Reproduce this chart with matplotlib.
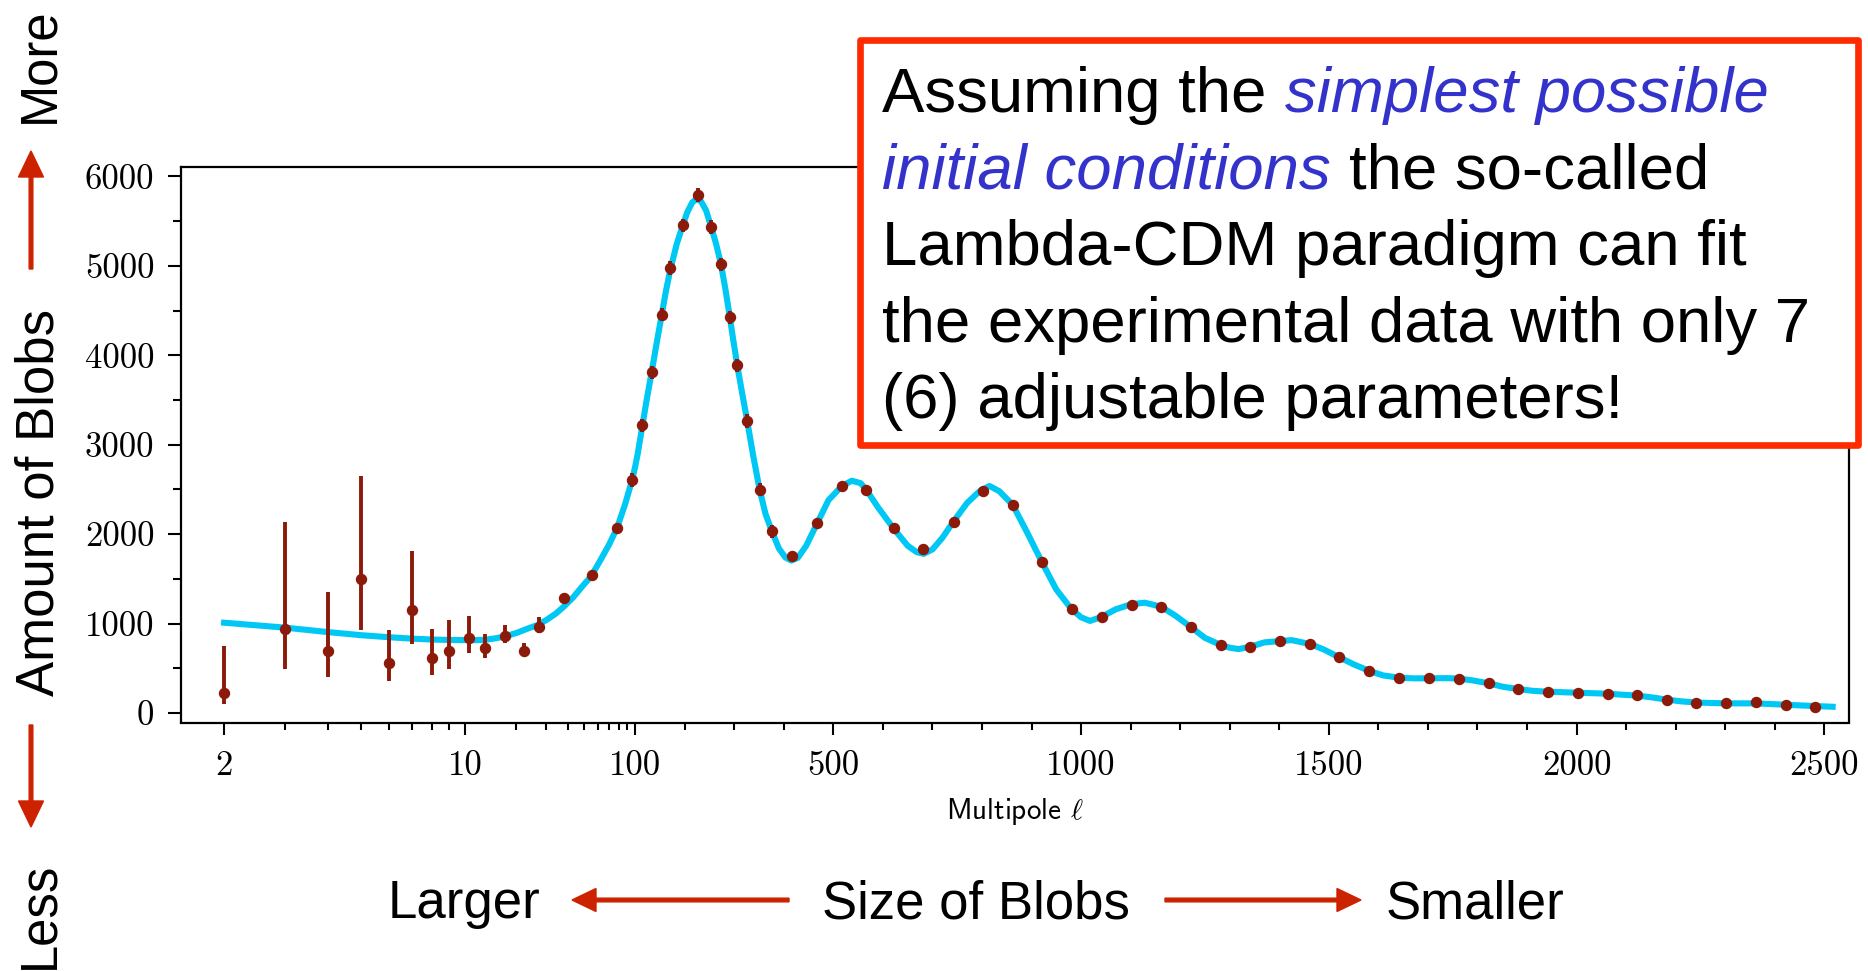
import numpy as np
import matplotlib
matplotlib.use('Agg')
import matplotlib.pyplot as plt
from matplotlib.patches import FancyArrow, Rectangle

plt.rcParams['font.family'] = ['Liberation Sans', 'DejaVu Sans']
plt.rcParams['mathtext.fontset'] = 'cm'

# theory curve
curve_l = [2, 2.5, 3, 4, 5, 6, 7, 8, 9, 10,
           11.5, 13, 15, 17, 20, 23, 26.6, 30, 34, 38,
           43, 48, 55, 62, 70, 78, 87, 96, 100, 105,
           113, 123, 133, 143, 153, 162, 171, 184, 196, 205,
           215, 224, 233, 243, 253, 263, 273, 282, 291, 298,
           306, 316, 326, 338, 351, 363, 376, 390, 403, 415,
           428, 445, 467, 490, 517, 537, 555, 566, 590, 621,
           650, 668, 682, 700, 720, 742, 770, 795, 815, 835,
           862, 890, 921, 950, 981, 1000, 1018, 1042, 1070, 1100,
           1128, 1161, 1190, 1222, 1250, 1282, 1300, 1318, 1342, 1370,
           1402, 1425, 1462, 1490, 1521, 1550, 1582, 1610, 1642, 1670,
           1702, 1740, 1762, 1790, 1823, 1850, 1882, 1912, 1942, 1972,
           2002, 2032, 2063, 2092, 2122, 2152, 2182, 2212, 2242, 2272,
           2302, 2332, 2362, 2392, 2423, 2452, 2482, 2517]
curve_d = [1010, 980, 955, 905, 870, 848, 832, 822, 817, 815,
           815, 818, 835, 855, 895, 940, 984, 1040, 1110, 1190,
           1290, 1400, 1530, 1700, 1880, 2066, 2330, 2610, 2760, 2900,
           3170, 3500, 3809, 4130, 4440, 4720, 4965, 5250, 5454, 5600,
           5710, 5750, 5720, 5620, 5440, 5250, 5020, 4740, 4424, 4165,
           3885, 3570, 3265, 2880, 2500, 2225, 2030, 1840, 1740, 1705,
           1735, 1870, 2120, 2380, 2538, 2598, 2570, 2500, 2300, 2067,
           1870, 1800, 1780, 1830, 1960, 2139, 2350, 2480, 2539, 2480,
           2327, 2030, 1686, 1380, 1160, 1070, 1030, 1077, 1160, 1215,
           1234, 1190, 1090, 959, 840, 761, 730, 715, 742, 790,
           805, 815, 772, 710, 623, 545, 470, 420, 395, 388,
           388, 390, 385, 365, 332, 295, 268, 248, 238, 232,
           227, 222, 216, 205, 195, 175, 150, 130, 118, 112,
           108, 108, 108, 100, 92, 85, 78, 70]

# measured points
pts_l = [2, 3, 4, 5, 6, 7, 8, 9, 10.45, 13.0, 17.2, 22.2, 27.0, 38.2, 55.4,
         78, 96.3, 112.7, 132.9, 153.1, 170.6, 196.2, 225.7, 253.3, 273.5,
         291, 305.8, 326, 350.9, 375.8, 416.2, 466.6, 517, 566, 621.3,
         681.8, 742.4, 801.7, 861.8, 921, 981, 1041.6, 1102, 1161, 1222,
         1282, 1341.6, 1402, 1462, 1521, 1582, 1642.5, 1702, 1762.5, 1823,
         1882, 1942, 2002.5, 2063, 2122, 2182, 2242, 2302.5, 2362.5, 2423, 2482]
pts_d = [220, 936, 694, 1499, 556, 1152, 612, 697, 840, 723, 858, 697, 962, 1283, 1538,
         2068, 2606, 3217, 3809, 4456, 4975, 5454, 5794, 5435, 5016,
         4424, 3888, 3265, 2499, 2031, 1760, 2126, 2538, 2499, 2067,
         1839, 2139, 2479, 2327, 1686, 1160, 1077, 1208, 1182, 959,
         761, 742, 805, 772, 623, 470, 395, 392, 380, 332,
         268, 238, 227, 216, 198, 145, 115, 108, 120, 89, 70]
err_lo = [119, 447, 295, 571, 198, 380, 191, 208, 172, 104, 78, 48, 71, 43, 30,
          40] + [75] * 14 + [45] * 8 + [25] * 28
err_hi = [529, 1204, 656, 1152, 372, 660, 324, 343, 249, 161, 126, 89, 108, 47, 30,
          40] + [75] * 14 + [45] * 8 + [25] * 28

xticks = [2, 10, 100, 500, 1000, 1500, 2000, 2500]
xtick_labels = ['2', '10', '100', '500', '1000', '1500', '2000', '2500']
xminor = [3, 4, 5, 6, 7, 8, 9, 20, 30, 40, 50, 60, 70, 80, 90] + \
         [v for v in range(200, 2500, 100) if v % 500 != 0]
yticks = [0, 1000, 2000, 3000, 4000, 5000, 6000]
yminor = [500, 1500, 2500, 3500, 4500, 5500]

CYAN = '#00C8F5'
DOT = '#8B1A0A'
ARROW = '#CC2200'
BOX = '#FF2A00'
BLUE = '#3333CC'

# piecewise axis: log 2..10, log (compressed) 10..100, linear above 100
A, B, C = 345.0, 170.0, 0.4954
F10 = A * np.log10(5)
F100 = F10 + B


def fwd(l):
    l = np.maximum(np.asarray(l, dtype=float), 1e-3)
    lo = A * np.log10(l / 2)
    mid = F10 + B * np.log10(l / 10)
    hi = F100 + (l - 100) * C
    return np.where(l <= 10, lo, np.where(l <= 100, mid, hi))


def inv(f):
    f = np.clip(np.asarray(f, dtype=float), -2000, 5000)
    lo = 2 * 10 ** (f / A)
    mid = 10 * 10 ** ((f - F10) / B)
    hi = 100 + (f - F100) / C
    return np.where(f <= F10, lo, np.where(f <= F100, mid, hi))


W, H = 1868, 971
fig = plt.figure(figsize=(W / 100, H / 100), dpi=100)
ax = fig.add_axes([181 / W, 1 - 722.5 / H, (1849 - 181) / W, (722.5 - 167) / H])
ax.set_xlim(1.5, 2550)
ax.set_xscale('function', functions=(fwd, inv))
ax.set_xlim(1.5, 2550)

ax.plot(curve_l, curve_d, color=CYAN, lw=4.4, zorder=2)
ax.errorbar(pts_l, pts_d, yerr=[err_lo, err_hi], fmt='o', ms=7.2, color=DOT,
            elinewidth=2.8, capsize=0, zorder=3)

ax.set_xlim(1.5, 2550)
ax.set_ylim(-106, 6106)
ax.set_xticks(xticks, labels=xtick_labels, fontfamily='cmr10', fontsize=25)
ax.set_xticks(xminor, minor=True)
ax.set_yticks(yticks, labels=[str(v) for v in yticks], fontfamily='cmr10', fontsize=25)
ax.set_yticks(yminor, minor=True)
ax.tick_params(axis='x', which='major', length=8.4, width=1.5, pad=11.5)
ax.tick_params(axis='x', which='minor', length=4.8, width=1.5)
ax.tick_params(axis='y', which='major', length=9.6, width=1.5, pad=9.5)
ax.tick_params(axis='y', which='minor', length=6, width=1.5)
for s in ax.spines.values():
    s.set_linewidth(1.6)
ax.set_xlabel(r'Multipole $\ell$', fontfamily='cmss10', fontsize=21, labelpad=10)


def px(x, y):
    return x / W, 1 - y / H


# arrows in pixel-like inch coordinates
def arrow(x0, y0, x1, y1, hw, hl):
    a = FancyArrow(x0 / 100, (H - y0) / 100, (x1 - x0) / 100, -(y1 - y0) / 100,
                   width=0.037, head_width=hw / 100, head_length=hl / 100,
                   length_includes_head=True, color=ARROW,
                   transform=fig.dpi_scale_trans)
    fig.add_artist(a)


arrow(31, 269, 31, 151, 25, 26)
arrow(31, 725, 31, 827, 25, 26)
arrow(789, 900, 572, 900, 23, 24)
arrow(1165, 900, 1361, 900, 23, 24)

fig.text(*px(39.5, 65), 'More', rotation=90, ha='center', va='center', fontsize=36.5)
fig.text(*px(39.5, 502), 'Amount of Blobs', rotation=90, ha='center', va='center', fontsize=38)
fig.text(*px(39.5, 915), 'Less', rotation=90, ha='center', va='center', fontsize=36.5)

fig.text(*px(463.7, 918), 'Larger', ha='center', va='baseline', fontsize=38)
fig.text(*px(976, 918), 'Size of Blobs', ha='center', va='baseline', fontsize=38)
fig.text(*px(1475, 918), 'Smaller', ha='center', va='baseline', fontsize=38)

# explanation box
rect = Rectangle(px(860, 445), (1858 - 860) / W, (445 - 40) / H, transform=fig.transFigure,
                 facecolor='white', edgecolor=BOX, lw=4.8, joinstyle='round', zorder=5)
fig.add_artist(rect)

box_lines = [
    [('Assuming the', 'black', 'normal'), ('simplest possible', BLUE, 'italic')],
    [('initial conditions', BLUE, 'italic'), ('the so-called', 'black', 'normal')],
    [('Lambda-CDM paradigm can fit', 'black', 'normal')],
    [('the experimental data with only 7', 'black', 'normal')],
    [('(6) adjustable parameters!', 'black', 'normal')],
]
fs = 45.7
space = 0.278 * fs * 100 / 72
renderer = fig.canvas.get_renderer()
for i, line in enumerate(box_lines):
    x = 882.5
    y = 112 + i * 76.6
    for text, col, style in line:
        t = fig.text(*px(x, y), text, color=col, style=style, fontsize=fs,
                     ha='left', va='baseline', zorder=6)
        x += t.get_window_extent(renderer).width + space

fig.savefig('out.png', dpi=100)
